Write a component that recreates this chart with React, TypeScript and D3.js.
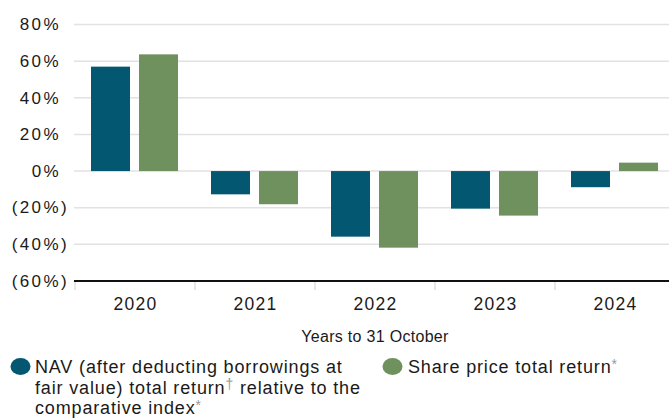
import React from "react";
import * as d3 from "d3";

const years = ["2020", "2021", "2022", "2023", "2024"];
const navValues = [57, -12.7, -35.8, -20.5, -8.8];
const shareValues = [63.7, -18.1, -41.8, -24.3, 4.6];
const yTicks = [80, 60, 40, 20, 0, -20, -40, -60];
const seriesKeys = ["nav", "share"];
const seriesColors = ["#045770", "#6E915D"];

const W = 669;
const H = 419;
const FONT = "'Liberation Sans', Arial, sans-serif";

export default function App() {
  const y = d3.scaleLinear().domain([-60, 80]).range([281, 24.5]);
  const x0 = d3.scaleBand().domain(years).range([75, 675]);
  const x1 = d3
    .scaleBand()
    .domain(seriesKeys)
    .range([16, 103])
    .paddingInner(0.1875);
  const data = [navValues, shareValues];
  const fmt = (v: number) => (v < 0 ? `(${Math.abs(v)}%)` : `${v}%`);

  return (
    <svg
      width={W}
      height={H}
      style={{ position: "absolute", left: 0, top: 0, background: "#fff" }}
      fontFamily={FONT}
    >
      {yTicks.map((t) => (
        <g key={t}>
          {t !== -60 && (
            <line x1={74} x2={W} y1={y(t)} y2={y(t)} stroke="#e2e2e2" strokeWidth={1.5} />
          )}
          <text
            x={t < 0 ? 69 : 61}
            y={y(t)}
            dy="0.34em"
            textAnchor="end"
            fontSize={17}
            letterSpacing={2.4}
            fill="#1a1a1a"
          >
            {fmt(t)}
          </text>
        </g>
      ))}
      {data.map((vals, si) =>
        vals.map((v, i) => {
          const bx = (x0(years[i]) as number) + (x1(seriesKeys[si]) as number);
          return (
            <rect
              key={`${si}-${i}`}
              x={bx}
              width={x1.bandwidth()}
              y={Math.min(y(v), y(0))}
              height={Math.abs(y(v) - y(0))}
              fill={seriesColors[si]}
            />
          );
        })
      )}
      <line x1={74} x2={W} y1={y(-60)} y2={y(-60)} stroke="#111" strokeWidth={2} />
      {years.map((yr) => (
        <g key={yr}>
          <line
            x1={x0(yr) as number}
            x2={x0(yr) as number}
            y1={y(-60) + 1}
            y2={y(-60) + 9}
            stroke="#d0d0d0"
            strokeWidth={1}
          />
          <text
            x={(x0(yr) as number) + x0.bandwidth() / 2 + 0.6}
            y={309.5}
            textAnchor="middle"
            fontSize={17.5}
            letterSpacing={1.3}
            fill="#1a1a1a"
          >
            {yr}
          </text>
        </g>
      ))}
      <text x={375} y={341.5} textAnchor="middle" fontSize={16} letterSpacing={0.3} fill="#1a1a1a">
        Years to 31 October
      </text>
      <ellipse cx={20.5} cy={366.5} rx={10} ry={8.5} fill={seriesColors[0]} />
      <text fontSize={18} fill="#1a1a1a" letterSpacing={0.85}>
        <tspan x={35} y={373}>NAV (after deducting borrowings at</tspan>
        <tspan x={35} y={393.5}>
          fair value) total return
          <tspan fill="#999" fontSize={14} dy={-5}>†</tspan>
          <tspan dy={5}> relative to the</tspan>
        </tspan>
        <tspan x={35} y={414}>
          comparative index
          <tspan fill="#999" fontSize={14} dy={-4}>*</tspan>
        </tspan>
      </text>
      <ellipse cx={392.5} cy={366.5} rx={10} ry={8.5} fill={seriesColors[1]} />
      <text x={408} y={373} fontSize={18} fill="#1a1a1a" letterSpacing={0.85}>
        Share price total return
        <tspan fill="#999" fontSize={14} dy={-4}>*</tspan>
      </text>
    </svg>
  );
}
